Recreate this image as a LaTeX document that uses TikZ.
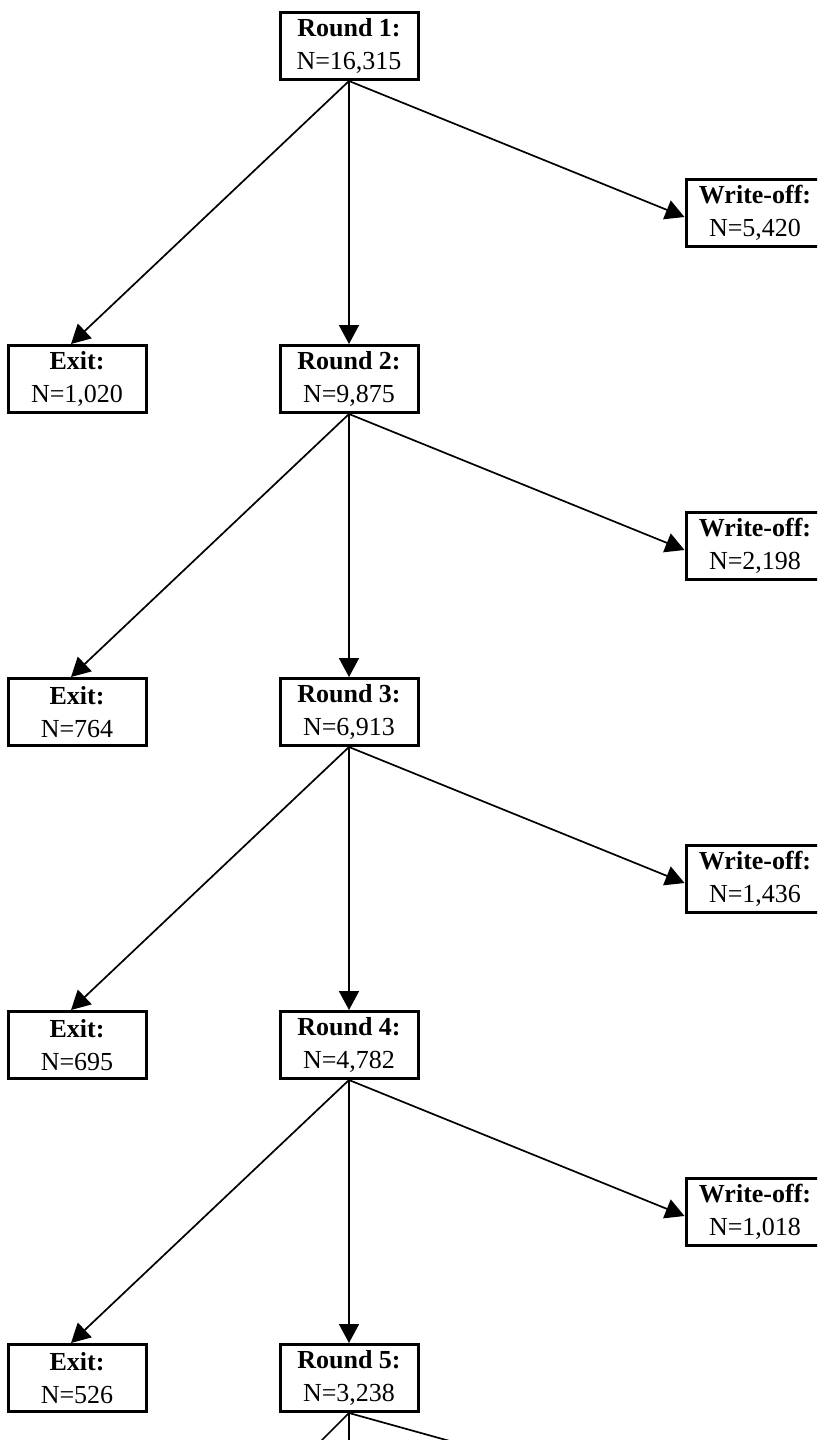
\documentclass[tikz,border=0pt]{standalone}
\usepackage{fontspec}
\setmainfont{Liberation Serif}
\usetikzlibrary{arrows.meta}
\begin{document}
\begin{tikzpicture}[x=1pt,y=-1pt,
  box/.style={draw=black, line width=3pt, fill=white, minimum width=138pt, minimum height=67pt,
    align=center, inner sep=1pt, font=\fontsize{26}{33}\selectfont},
  conn/.style={line width=1.7pt, -{Triangle[length=19pt,width=20pt]}},
  plain/.style={line width=1.7pt}]
\useasboundingbox (0,0) rectangle (817,1440);
\clip (0,0) rectangle (817,1440);
% Rounds
\node[box] (r1) at (349,46) {\textbf{Round 1:}\\N=16,315};
\node[box] (r2) at (349,379) {\textbf{Round 2:}\\N=9,875};
\node[box] (r3) at (349,712) {\textbf{Round 3:}\\N=6,913};
\node[box] (r4) at (349,1045) {\textbf{Round 4:}\\N=4,782};
\node[box] (r5) at (349,1378) {\textbf{Round 5:}\\N=3,238};
% Exits
\node[box] (e1) at (77,379) {\textbf{Exit:}\\N=1,020};
\node[box] (e2) at (77,712) {\textbf{Exit:}\\N=764};
\node[box] (e3) at (77,1045) {\textbf{Exit:}\\N=695};
\node[box] (e4) at (77,1378) {\textbf{Exit:}\\N=526};
% Write-offs
\node[box] (w1) at (755,213) {\textbf{Write-off:}\\N=5,420};
\node[box] (w2) at (755,546) {\textbf{Write-off:}\\N=2,198};
\node[box] (w3) at (755,879) {\textbf{Write-off:}\\N=1,436};
\node[box] (w4) at (755,1212) {\textbf{Write-off:}\\N=1,018};
% connectors
\foreach \a/\b/\c/\d in {r1/r2/e1/w1, r2/r3/e2/w2, r3/r4/e3/w3, r4/r5/e4/w4}{
  \draw[conn] (\a.south) -- (\b.north);
  \draw[conn] (\a.south) -- ([xshift=-6pt]\c.north);
  \draw[conn] (\a.south) -- ([yshift=-4pt]\d.west);
}
\coordinate (b1) at (289,1473);
\coordinate (b2) at (349,1473);
\coordinate (b3) at (565,1473);
\draw[plain] (r5.south) -- (b1);
\draw[plain] (r5.south) -- (b2);
\draw[plain] (r5.south) -- (b3);
\end{tikzpicture}
\end{document}
